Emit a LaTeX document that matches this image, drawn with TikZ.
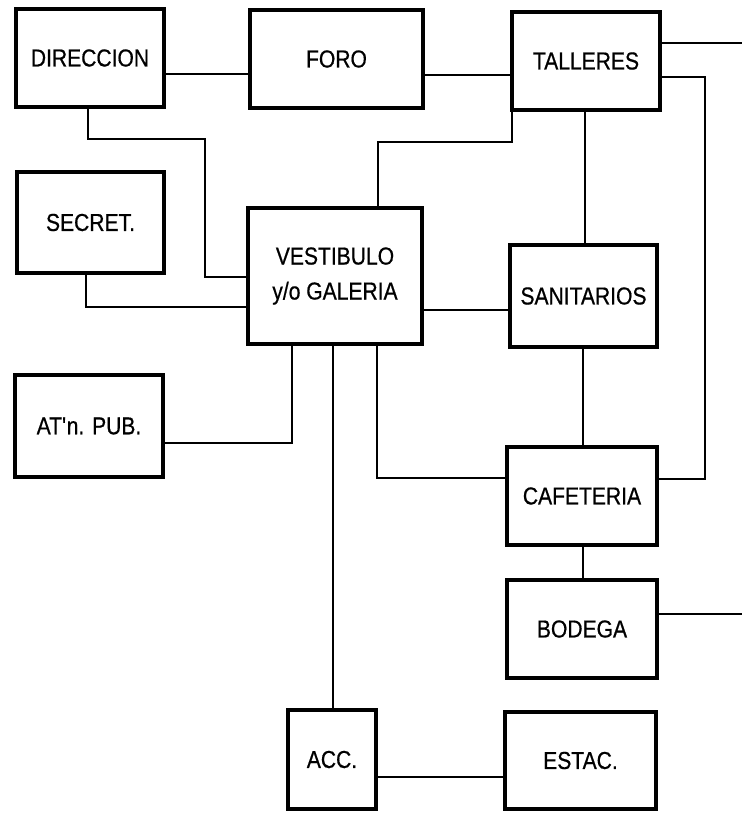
\documentclass[tikz,border=0pt]{standalone}
\usepackage{fontspec}
\setmainfont{Liberation Sans}
\newfontfamily\boxfont[FakeStretch=0.86,FakeBold=0.6]{Liberation Sans}
\begin{document}
\begin{tikzpicture}[x=1pt,y=-1pt,
  box/.style={draw=black,line width=4.2pt,inner sep=0pt,outer sep=0pt,align=center,
    font=\boxfont\fontsize{24.5}{35}\selectfont},
  conn/.style={draw=black,line width=1.9pt}]
\useasboundingbox[fill=white] (0,0) rectangle (742,813);
% boxes
\node[box,minimum width=148pt,minimum height=98pt]  (dir)  at (90,58)    {DIRECCION};
\node[box,minimum width=173pt,minimum height=98pt]  (foro) at (336.5,59) {FORO};
\node[box,minimum width=148pt,minimum height=98pt]  (tal)  at (586,61)   {TALLERES};
\node[box,minimum width=147pt,minimum height=101pt] (sec)  at (90.5,222.5) {SECRET.};
\node[box,minimum width=174pt,minimum height=136pt] (ves)  at (335,276)  {VESTIBULO\\y/o GALERIA};
\node[box,minimum width=147pt,minimum height=102pt] (san)  at (583.5,296) {SANITARIOS};
\node[box,minimum width=148pt,minimum height=102pt] (atn)  at (89,426)   {AT\textquotesingle n. PUB.};
\node[box,minimum width=150pt,minimum height=98pt]  (caf)  at (582,496)  {CAFETERIA};
\node[box,minimum width=150pt,minimum height=98pt]  (bod)  at (582,629)  {BODEGA};
\node[box,minimum width=88pt,minimum height=99pt]   (acc)  at (332,759.5) {ACC.};
\node[box,minimum width=151pt,minimum height=97pt]  (est)  at (580.5,760.5) {ESTAC.};
% free ends
\coordinate (e1) at (742,43);
\coordinate (e2) at (742,614);
% connectors
\draw[conn] (dir.east |- 0,74) -- (foro.west |- 0,74);
\draw[conn] (foro.east |- 0,75) -- (tal.west |- 0,75);
\draw[conn] (dir.south -| 88,0) |- (205,139) |- (ves.west |- 0,277);
\draw[conn] (sec.south -| 86,0) |- (ves.west |- 0,307);
\draw[conn] (ves.north -| 378,0) |- (512,142) -- (tal.south west);
\draw[conn] (tal.east |- e1) -- (e1);
\draw[conn] (tal.east |- 0,77) -| (705,479) -- (caf.east |- 0,479);
\draw[conn] (tal.south -| 585,0) -- (san.north -| 585,0);
\draw[conn] (ves.east |- 0,310) -- (san.west |- 0,310);
\draw[conn] (san.south -| 583,0) -- (caf.north -| 583,0);
\draw[conn] (ves.south -| 377,0) |- (caf.west |- 0,478);
\draw[conn] (ves.south -| 292,0) |- (atn.east |- 0,443);
\draw[conn] (ves.south -| 333,0) -- (acc.north -| 333,0);
\draw[conn] (caf.south -| 583,0) -- (bod.north -| 583,0);
\draw[conn] (bod.east |- e2) -- (e2);
\draw[conn] (acc.east |- 0,777) -- (est.west |- 0,777);
\end{tikzpicture}
\end{document}
